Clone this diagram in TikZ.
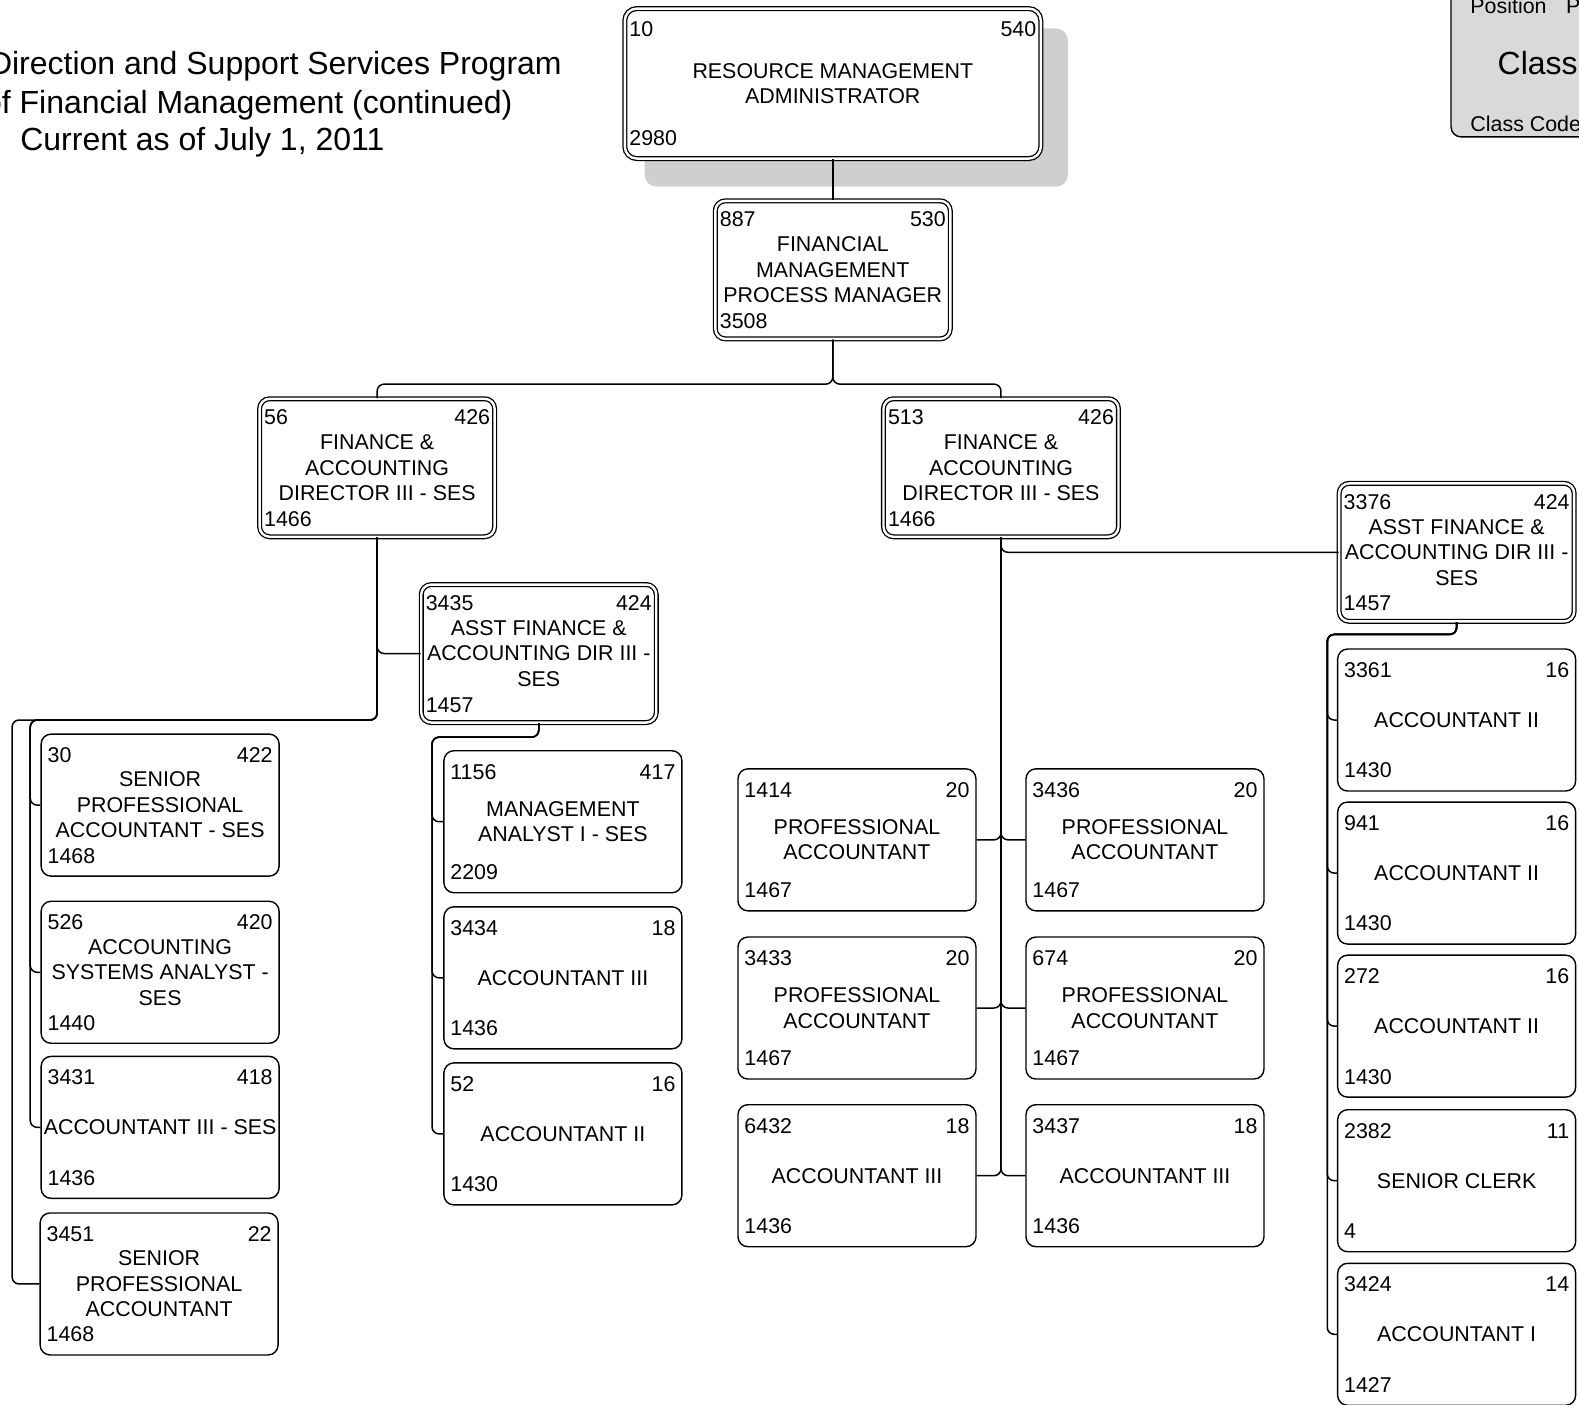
\documentclass[tikz,border=0pt]{standalone}
\usepackage{fontspec}
\setmainfont{Liberation Sans}
\usetikzlibrary{backgrounds}

\begin{document}
\begin{tikzpicture}[
    x=1.007pt, y=-1.007pt,
    font=\fontsize{21.4}{25.5}\selectfont,
    num/.style={text height=17.3pt, text depth=2pt},
    tags/.style n args={5}{
        label={[num, inner xsep=#4, inner ysep=#5, anchor=north west]north west:#1},
        label={[num, inner xsep=#4, inner ysep=#5, anchor=north east]north east:#2},
        label={[num, inner xsep=#4, inner ysep=#5, anchor=south west]south west:#3}
    },
    codes/.style n args={3}{tags={#1}{#2}{#3}{7pt}{11.6pt}},
    dcodes/.style n args={3}{tags={#1}{#2}{#3}{5pt}{9pt}},
    posbox/.style={rectangle, draw, line width=1.4pt, fill=white, rounded corners=10pt, minimum width=238pt, minimum height=142pt, inner sep=1pt, align=center},
    dposbox/.style={posbox, double, double distance=2.4pt, line width=1.3pt, minimum width=235pt, minimum height=138pt},
    headbox/.style={dposbox, rounded corners=12pt, minimum width=416pt, minimum height=150pt},
    legendbox/.style={rectangle, draw, line width=1.4pt, fill=black!15, rounded corners=10pt, minimum width=261pt, minimum height=167pt},
    dropfill/.style={fill=black!19, rounded corners=12pt},
    link/.style={line width=1.5pt, rounded corners=7pt},
    headline/.style={font=\fontsize{32}{39}\selectfont, inner sep=0pt}
]
\useasboundingbox (0,0) rectangle (1568,1395);

% ==================== TITLE & LEGEND ====================
\node[headline, anchor=base east] (title1) at (558,73.5) {Direction and Support Services Program};
\node[headline, anchor=base east] (title2) at (509,112.5) {of Financial Management (continued)};
\node[headline, anchor=base west] (title3) at (20,149.5) {Current as of July 1, 2011};

\node[legendbox] (legend) at (1570.5,53) {};
\node[anchor=base west, inner sep=0pt] (lpos) at (1460,13) {Position};
\node[anchor=base west, inner sep=0pt] (lgrade) at (1555,13) {Pay Grade};
\node[headline, anchor=base west] (lclass) at (1487,73.5) {Class};
\node[anchor=base west, inner sep=0pt] (lcode) at (1460,131) {Class Code};

% ==================== TOP ====================
\node[headbox, tags={10}{540}{2980}{5pt}{11.5pt}] (rma) at (827,83) {RESOURCE MANAGEMENT\\ADMINISTRATOR};
\begin{scope}[on background layer]
    \fill[dropfill] ([shift={(20.5pt,-27.5pt)}]rma.south west) rectangle ([shift={(26.5pt,-20.5pt)}]rma.north east);
\end{scope}

\node[dposbox, dcodes={887}{530}{3508}] (fmpm) at (827,268) {FINANCIAL\\MANAGEMENT\\PROCESS MANAGER};

\node[dposbox, dcodes={56}{426}{1466}] (fad1) at (374.5,464.5) {FINANCE \&\\ACCOUNTING\\DIRECTOR III - SES};
\node[dposbox, dcodes={513}{426}{1466}] (fad2) at (994,464.5) {FINANCE \&\\ACCOUNTING\\DIRECTOR III - SES};

\node[dposbox, dcodes={3435}{424}{1457}] (asst1) at (535,649) {ASST FINANCE \&\\ACCOUNTING DIR III -\\SES};
\node[dposbox, dcodes={3376}{424}{1457}] (asst2) at (1446.5,548.5) {ASST FINANCE \&\\ACCOUNTING DIR III -\\SES};

% ==================== LEFT COLUMN ====================
\node[posbox, codes={30}{422}{1468}] (spa1) at (159,799.5) {SENIOR\\PROFESSIONAL\\ACCOUNTANT - SES};
\node[posbox, codes={526}{420}{1440}] (asa) at (159,965.5) {ACCOUNTING\\SYSTEMS ANALYST -\\SES};
\node[posbox, codes={3431}{418}{1436}] (acc3s) at (159,1119.5) {ACCOUNTANT III - SES};
\node[posbox, codes={3451}{22}{1468}] (spa2) at (158,1275) {SENIOR\\PROFESSIONAL\\ACCOUNTANT};

% ==================== MIDDLE COLUMN ====================
\node[posbox, codes={1156}{417}{2209}] (ma1) at (559,816) {MANAGEMENT\\ANALYST I - SES};
\node[posbox, codes={3434}{18}{1436}] (acc3a) at (559,971) {ACCOUNTANT III};
\node[posbox, codes={52}{16}{1430}] (acc2a) at (559,1126) {ACCOUNTANT II};

% ==================== CENTER COLUMNS ====================
\node[posbox, codes={1414}{20}{1467}] (pa1) at (851,834) {PROFESSIONAL\\ACCOUNTANT};
\node[posbox, codes={3436}{20}{1467}] (pa2) at (1137,834) {PROFESSIONAL\\ACCOUNTANT};
\node[posbox, codes={3433}{20}{1467}] (pa3) at (851,1001) {PROFESSIONAL\\ACCOUNTANT};
\node[posbox, codes={674}{20}{1467}] (pa4) at (1137,1001) {PROFESSIONAL\\ACCOUNTANT};
\node[posbox, codes={6432}{18}{1436}] (acc3b) at (851,1167.5) {ACCOUNTANT III};
\node[posbox, codes={3437}{18}{1436}] (acc3c) at (1137,1167.5) {ACCOUNTANT III};

% ==================== RIGHT COLUMN ====================
\node[posbox, codes={3361}{16}{1430}] (acc2b) at (1446.5,715) {ACCOUNTANT II};
\node[posbox, codes={941}{16}{1430}] (acc2c) at (1446.5,867) {ACCOUNTANT II};
\node[posbox, codes={272}{16}{1430}] (acc2d) at (1446.5,1019) {ACCOUNTANT II};
\node[posbox, codes={2382}{11}{4}] (clerk) at (1446.5,1172.5) {SENIOR CLERK};
\node[posbox, codes={3424}{14}{1427}] (acc1) at (1446.5,1325) {ACCOUNTANT I};

% ==================== BUS POINTS ====================
\coordinate (lbus) at (30,715);
\coordinate (lbusb) at (12,715);
\coordinate (mbus) at (429,732);
\coordinate (rbus) at (1318,630);

% ==================== CONNECTORS ====================
\draw[link] (rma.south) -- (fmpm.north);
\draw[link] (fmpm.south) |- ([yshift=14pt]fad1.north) -- (fad1.north);
\draw[link] (fmpm.south) |- ([yshift=14pt]fad2.north) -- (fad2.north);

% left director
\draw[link] (fad1.south) |- (asst1.west);
\draw[link] (fad1.south) |- (lbus) |- (spa1.west);
\draw[link] (fad1.south) |- (lbus) |- (asa.west);
\draw[link] (fad1.south) |- (lbus) |- (acc3s.west);
\draw[link] (fad1.south) |- (lbusb) |- (spa2.west);

\draw[link] (asst1.south) |- (mbus) |- (ma1.west);
\draw[link] (asst1.south) |- (mbus) |- (acc3a.west);
\draw[link] (asst1.south) |- (mbus) |- (acc2a.west);

% right director
\draw[link] (fad2.south) |- (asst2.west);
\draw[link] (fad2.south) |- (pa1.east);
\draw[link] (fad2.south) |- (pa2.west);
\draw[link] (fad2.south) |- (pa3.east);
\draw[link] (fad2.south) |- (pa4.west);
\draw[link] (fad2.south) |- (acc3b.east);
\draw[link] (fad2.south) |- (acc3c.west);

\draw[link] (asst2.south) |- (rbus) |- (acc2b.west);
\draw[link] (asst2.south) |- (rbus) |- (acc2c.west);
\draw[link] (asst2.south) |- (rbus) |- (acc2d.west);
\draw[link] (asst2.south) |- (rbus) |- (clerk.west);
\draw[link] (asst2.south) |- (rbus) |- (acc1.west);

\end{tikzpicture}
\end{document}
